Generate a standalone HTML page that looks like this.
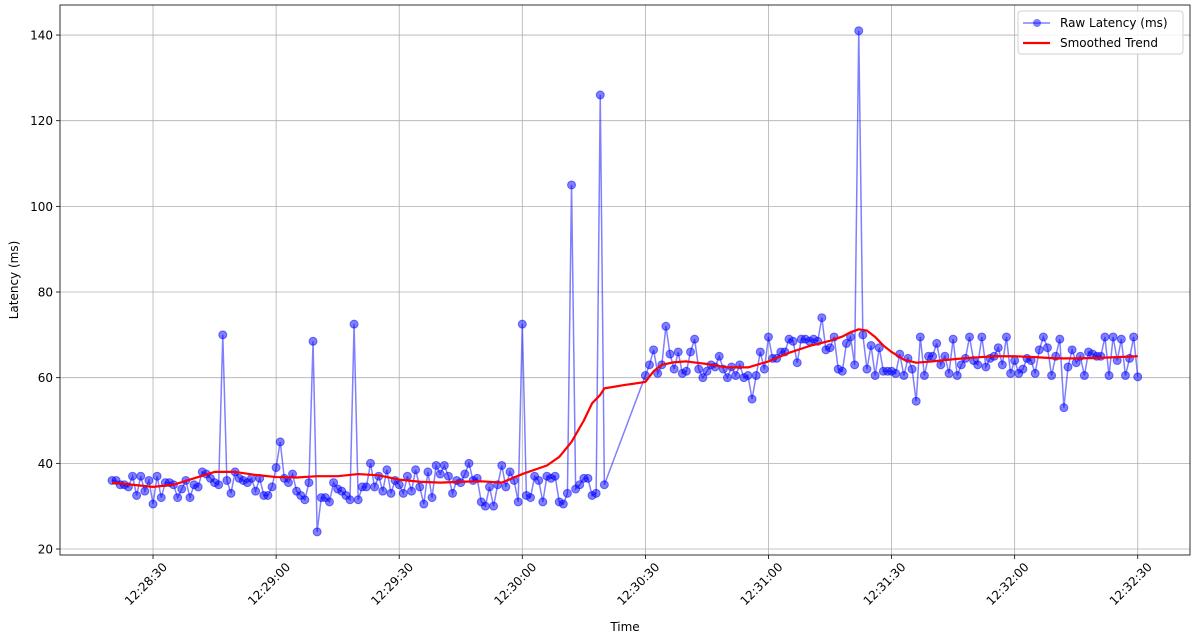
<!DOCTYPE html>
<html><head><meta charset="utf-8"><style>
body{margin:0;background:#fff;width:1198px;height:633px;overflow:hidden;font-family:"DejaVu Sans","Liberation Sans",sans-serif;}
</style></head><body>
<svg id="chart" width="1198" height="633" xmlns="http://www.w3.org/2000/svg" font-family="DejaVu Sans, Liberation Sans, sans-serif"></svg>
<script>
const yTicks=[20,40,60,80,100,120,140];
const xTickSecs=[10,40,70,100,130,160,190,220,250];
const xTickLabels=["12:28:30","12:29:00","12:29:30","12:30:00","12:30:30","12:31:00","12:31:30","12:32:00","12:32:30"];
const seg1Start=0;
const seg1=[36,36,35,35,34.5,37,32.5,37,33.5,36,30.5,37,32,35.5,35.5,35,32,34,36,32,35,34.5,38,37.5,36.5,35.5,35,70,36,33,38,36.5,36,35.5,36.5,33.5,36.5,32.5,32.5,34.5,39,45,36.5,35.5,37.5,33.5,32.5,31.5,35.5,68.5,24,32,32,31,35.5,34,33.5,32.5,31.5,72.5,31.5,34.5,34.5,40,34.5,37,33.5,38.5,33,36,35,33,37,33.5,38.5,34.5,30.5,38,32,39.5,37.5,39.5,37,33,36,35.5,37.5,40,36,36.5,31,30,34.5,30,35,39.5,34.5,38,36,31,72.5,32.5,32,37,36,31,37,36.5,37,31,30.5,33,105,34,35,36.5,36.5,32.5,33,126,35];
const seg2Start=130;
const seg2=[60.5,63,66.5,61,63,72,65.5,62,66,61,61.5,66,69,62,60,61.5,63,62.5,65,62,60,62.5,60.5,63,60,60.5,55,60.5,66,62,69.5,64.5,64.5,66,66,69,68.5,63.5,69,69,68.5,69,68.5,74,66.5,67,69.5,62,61.5,68,69.5,63,141,70,62,67.5,60.5,67,61.5,61.5,61.5,61,65.5,60.5,64.5,62,54.5,69.5,60.5,65,65,68,63,65,61,69,60.5,63,64.5,69.5,64,63,69.5,62.5,64.5,65,67,63,69.5,61,64,61,62,64.5,64,61,66.5,69.5,67,60.5,65,69,53,62.5,66.5,63.5,65,60.5,66,65.5,65,65,69.5,60.5,69.5,64,69,60.5,64.5,69.5,60.2];
const trendT=[0,5,10,15,20,25,30,35,40,45,50,55,60,65,70,75,80,85,90,95,100,103,106,109,112,115,117,119,120,125,130,132,134,137,140,145,150,155,160,165,170,175,178,180,182,184,186,188,190,193,196,200,205,210,215,220,225,230,235,240,245,250];
const trendV=[35.5,35,34.5,35,36.5,38,38,37.3,36.8,36.7,37,37,37.5,37.2,36.2,35.7,35.5,35.7,35.8,35.5,37.5,38.5,39.5,41.5,45,50,54,56,57.5,58.3,59,61.5,63,63.6,63.8,63.2,62.4,62.4,63.8,65.8,67.4,68.6,69.6,70.6,71.3,71,69.5,67.5,66,64.2,63.5,63.8,64.3,64.7,65,65,64.8,64.5,64.5,64.6,64.8,65];

const NS="http://www.w3.org/2000/svg";
const svg=document.getElementById('chart');
const L=60,R=1190,T=5,B=555;
const X=t=>112+t*4.103;
const Y=v=>549-(v-20)*4.283;
function mk(tag,attrs,parent){const e=document.createElementNS(NS,tag);for(const k in attrs)e.setAttribute(k,attrs[k]);(parent||svg).appendChild(e);return e;}

yTicks.forEach(v=>{
  const g=mk('line',{x1:L,x2:R,y1:Y(v),y2:Y(v),stroke:'#b0b0b0','stroke-width':0.8});
  
  
  mk('line',{x1:L-4,x2:L,y1:Y(v),y2:Y(v),stroke:'#000','stroke-width':0.8});
  const t=mk('text',{x:L-7,y:Y(v)+4.5,'text-anchor':'end','font-size':12,fill:'#000'});
  t.textContent=v;
  
  
});
xTickSecs.forEach((s,i)=>{
  const x=X(s);
  const g=mk('line',{x1:x,x2:x,y1:T,y2:B,stroke:'#b0b0b0','stroke-width':0.8});
  
  
  mk('line',{x1:x,x2:x,y1:B,y2:B+4,stroke:'#000','stroke-width':0.8});
  const cx=x-7, cy=B+29;
  const t=mk('text',{x:cx,y:cy+4,'text-anchor':'middle','font-size':12,fill:'#000',transform:`rotate(-45 ${cx} ${cy})`});
  t.textContent=xTickLabels[i];
  
  
});

const pts=[];
seg1.forEach((v,i)=>pts.push([X(seg1Start+i),Y(v)]));
seg2.forEach((v,i)=>pts.push([X(seg2Start+i*120/(seg2.length-1)),Y(v)]));
const raw=mk('polyline',{points:pts.map(p=>p.join(',')).join(' '),fill:'none',stroke:'#0000ff','stroke-opacity':0.5,'stroke-width':1.5});


pts.forEach(p=>{
  const c=mk('circle',{cx:p[0],cy:p[1],r:4,fill:'#0000ff','fill-opacity':0.5,stroke:'#0000ff','stroke-opacity':0.5,'stroke-width':1});
  
  
});
const tr=mk('polyline',{points:trendT.map((t,i)=>X(t)+','+Y(trendV[i])).join(' '),fill:'none',stroke:'#ff0000','stroke-width':2.2,'stroke-linejoin':'round'});



const fr=mk('rect',{x:L,y:T,width:R-L,height:B-T,fill:'none',stroke:'#000','stroke-width':0.8});



const yl=mk('text',{x:18,y:280,'text-anchor':'middle','font-size':12,transform:'rotate(-90 18 280)'});
yl.textContent='Latency (ms)';


const xl=mk('text',{x:625,y:631,'text-anchor':'middle','font-size':12});
xl.textContent='Time';



const lg=mk('g',{});


mk('rect',{x:1018,y:11,width:165,height:43,rx:3,fill:'#fff','fill-opacity':0.85,stroke:'#d0d0d0'},lg);
mk('line',{x1:1023,x2:1050,y1:23,y2:23,stroke:'#0000ff','stroke-opacity':0.5,'stroke-width':1.5},lg);
mk('circle',{cx:1037,cy:23,r:4,fill:'#0000ff','fill-opacity':0.5},lg);
const l1=mk('text',{x:1060,y:27,'font-size':12},lg);l1.textContent='Raw Latency (ms)';


mk('line',{x1:1023,x2:1050,y1:43,y2:43,stroke:'#ff0000','stroke-width':2.2},lg);
const l2=mk('text',{x:1060,y:47,'font-size':12},lg);l2.textContent='Smoothed Trend';


</script>
</body></html>
